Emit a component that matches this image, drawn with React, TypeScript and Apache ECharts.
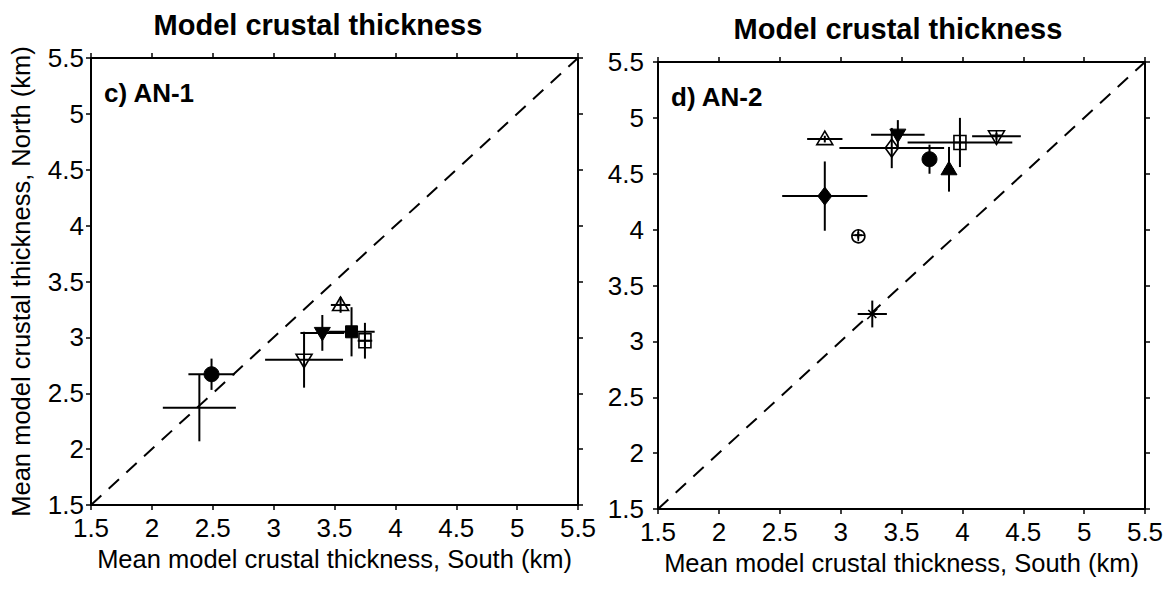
import React, { useEffect, useRef } from "react";
import * as echarts from "echarts";

// Axis range and ticks (km)
const axisMin = 1.5;
const axisMax = 5.5;
const tickStep = 0.5;

const chartTitle = "Model crustal thickness";
const xAxisTitle = "Mean model crustal thickness, South (km)";
const yAxisTitle = "Mean model crustal thickness, North (km)";
const panelLabels = ["c) AN-1", "d) AN-2"];

// Panel c) AN-1
const an1Markers = ["plus", "circleFilled", "triDownOpen", "triDownFilled", "triUpOpen", "squareFilled", "squareOpenPlus"];
const an1South = [2.39, 2.49, 3.25, 3.40, 3.55, 3.64, 3.75];
const an1North = [2.37, 2.67, 2.80, 3.04, 3.29, 3.05, 2.97];
const an1SouthErr = [0.30, 0.19, 0.32, 0.18, 0.08, 0.19, 0.06];
const an1NorthErr = [0.30, 0.14, 0.25, 0.16, 0.07, 0.22, 0.16];

// Panel d) AN-2
const an2Markers = ["triUpOpen", "diamondFilled", "circleOpenPlus", "diamondOpen", "triDownFilled", "circleFilled", "triUpFilled", "squareOpenPlus", "triDownOpenPlus", "x"];
const an2South = [2.87, 2.87, 3.145, 3.42, 3.47, 3.73, 3.89, 3.98, 4.28, 3.26];
const an2North = [4.81, 4.30, 3.95, 4.73, 4.85, 4.63, 4.54, 4.78, 4.835, 3.245];
const an2SouthErr = [0.145, 0.35, 0.03, 0.43, 0.22, 0.05, 0.04, 0.43, 0.20, 0.12];
const an2NorthErr = [0.03, 0.31, 0.03, 0.18, 0.13, 0.13, 0.20, 0.22, 0.03, 0.12];

const FONT = "'Liberation Sans', Arial, Helvetica, sans-serif";

function markerShapes(kind: string, cx: number, cy: number): any[] {
  const black = "#000";
  const open = { fill: "none", stroke: black, lineWidth: 1.6 };
  const filled = { fill: black, stroke: black, lineWidth: 1 };
  const line = (x1: number, y1: number, x2: number, y2: number) => ({
    type: "line",
    shape: { x1, y1, x2, y2 },
    style: { stroke: black, lineWidth: 1.6 },
  });
  switch (kind) {
    case "plus":
      return [];
    case "x":
      return [line(cx - 5, cy + 5, cx + 5, cy - 5), line(cx - 4, cy - 4, cx + 4, cy + 4)];
    case "circleFilled":
      return [{ type: "circle", shape: { cx, cy, r: 7.5 }, style: filled }];
    case "circleOpenPlus":
      return [
        { type: "circle", shape: { cx, cy, r: 6.5 }, style: open },
        line(cx - 6, cy, cx + 6, cy),
        line(cx, cy - 6, cx, cy + 6),
      ];
    case "triUpOpen":
    case "triUpFilled":
      return [
        {
          type: "polygon",
          shape: { points: [[cx, cy - 8], [cx - 8, cy + 5.5], [cx + 8, cy + 5.5]] },
          style: kind === "triUpOpen" ? open : filled,
        },
      ];
    case "triDownOpen":
    case "triDownFilled":
    case "triDownOpenPlus": {
      const shapes: any[] = [
        {
          type: "polygon",
          shape: { points: [[cx, cy + 8], [cx - 8, cy - 5.5], [cx + 8, cy - 5.5]] },
          style: kind === "triDownFilled" ? filled : open,
        },
      ];
      if (kind === "triDownOpenPlus") {
        shapes.push(line(cx - 5, cy - 1, cx + 5, cy - 1), line(cx, cy - 5.5, cx, cy + 8));
      }
      return shapes;
    }
    case "squareFilled":
      return [{ type: "rect", shape: { x: cx - 6, y: cy - 6, width: 12, height: 12 }, style: filled }];
    case "squareOpenPlus":
      return [
        { type: "rect", shape: { x: cx - 6, y: cy - 7, width: 12, height: 14 }, style: open },
        line(cx - 6, cy, cx + 6, cy),
        line(cx, cy - 7, cx, cy + 7),
      ];
    case "diamondFilled":
      return [
        {
          type: "polygon",
          shape: { points: [[cx, cy - 9], [cx + 7, cy], [cx, cy + 9], [cx - 7, cy]] },
          style: filled,
        },
      ];
    case "diamondOpen":
      return [
        {
          type: "polygon",
          shape: { points: [[cx, cy - 9], [cx + 6.5, cy], [cx, cy + 9], [cx - 6.5, cy]] },
          style: open,
        },
      ];
    default:
      return [];
  }
}

function errorSeries(
  south: number[],
  north: number[],
  sErr: number[],
  nErr: number[],
  markers: string[],
  axisIndex: number
) {
  return {
    type: "custom",
    xAxisIndex: axisIndex,
    yAxisIndex: axisIndex,
    clip: false,
    data: south.map((s, i) => [s, north[i], sErr[i], nErr[i]]),
    renderItem: (params: any, api: any) => {
      const x = api.value(0);
      const y = api.value(1);
      const xe = api.value(2);
      const ye = api.value(3);
      const c = api.coord([x, y]);
      const l = api.coord([x - xe, y]);
      const r = api.coord([x + xe, y]);
      const t = api.coord([x, y + ye]);
      const b = api.coord([x, y - ye]);
      const barStyle = { stroke: "#000", lineWidth: 2 };
      const children: any[] = [
        { type: "line", shape: { x1: l[0], y1: l[1], x2: r[0], y2: r[1] }, style: barStyle },
        { type: "line", shape: { x1: t[0], y1: t[1], x2: b[0], y2: b[1] }, style: barStyle },
        ...markerShapes(markers[params.dataIndex], c[0], c[1]),
      ];
      return { type: "group", children };
    },
  };
}

function valueAxis(gridIndex: number, position: string, showLabels: boolean, labelMargin: number, name?: string, nameGap?: number) {
  return {
    type: "value",
    gridIndex,
    position,
    min: axisMin,
    max: axisMax,
    interval: tickStep,
    splitLine: { show: false },
    axisLine: { show: true, onZero: false, lineStyle: { color: "#000", width: 2 } },
    axisTick: { show: true, inside: false, length: 5, lineStyle: { color: "#000", width: 1.5 } },
    axisLabel: {
      show: showLabels,
      color: "#000",
      fontSize: 26,
      fontFamily: FONT,
      margin: labelMargin,
    },
    name: name || "",
    nameLocation: "middle",
    nameGap: nameGap || 0,
    nameTextStyle: { color: "#000", fontSize: 25.5, fontFamily: FONT },
  };
}

export default function App() {
  const ref = useRef<HTMLDivElement>(null);
  useEffect(() => {
    if (!ref.current) return;
    const chart = echarts.init(ref.current, undefined, { renderer: "svg" });
    const grids = [
      { left: 91, top: 58, width: 487, height: 447 },
      { left: 658, top: 62, width: 487, height: 447 },
    ];
    const option: any = {
      animation: false,
      backgroundColor: "#fff",
      grid: grids,
      xAxis: [
        valueAxis(0, "bottom", true, 10, xAxisTitle, 41),
        valueAxis(0, "top", false, 8),
        valueAxis(1, "bottom", true, 10, xAxisTitle, 41),
        valueAxis(1, "top", false, 8),
      ],
      yAxis: [
        valueAxis(0, "left", true, 7, yAxisTitle, 57),
        valueAxis(0, "right", false, 8),
        valueAxis(1, "left", true, 14),
        valueAxis(1, "right", false, 8),
      ],
      series: [
        {
          type: "line",
          xAxisIndex: 0,
          yAxisIndex: 0,
          data: [[axisMin, axisMin], [axisMax, axisMax]],
          symbol: "none",
          lineStyle: { color: "#000", width: 2, type: [14, 10] },
        },
        {
          type: "line",
          xAxisIndex: 2,
          yAxisIndex: 2,
          data: [[axisMin, axisMin], [axisMax, axisMax]],
          symbol: "none",
          lineStyle: { color: "#000", width: 2, type: [14, 10] },
        },
        errorSeries(an1South, an1North, an1SouthErr, an1NorthErr, an1Markers, 0),
        errorSeries(an2South, an2North, an2SouthErr, an2NorthErr, an2Markers, 2),
      ],
      graphic: [
        {
          type: "text",
          x: 318,
          y: 25,
          style: { text: chartTitle, font: `bold 29px ${FONT}`, fill: "#000", align: "center", verticalAlign: "middle" },
        },
        {
          type: "text",
          x: 898,
          y: 29,
          style: { text: chartTitle, font: `bold 29px ${FONT}`, fill: "#000", align: "center", verticalAlign: "middle" },
        },
        {
          type: "text",
          x: grids[0].left + 13,
          y: 93,
          style: { text: panelLabels[0], font: `bold 26px ${FONT}`, fill: "#000", align: "left", verticalAlign: "middle" },
        },
        {
          type: "text",
          x: grids[1].left + 13,
          y: 97,
          style: { text: panelLabels[1], font: `bold 26px ${FONT}`, fill: "#000", align: "left", verticalAlign: "middle" },
        },
      ],
    };
    chart.setOption(option);
    return () => chart.dispose();
  }, []);
  return <div ref={ref} style={{ width: 1170, height: 589, position: "absolute", left: 0, top: 0 }} />;
}
